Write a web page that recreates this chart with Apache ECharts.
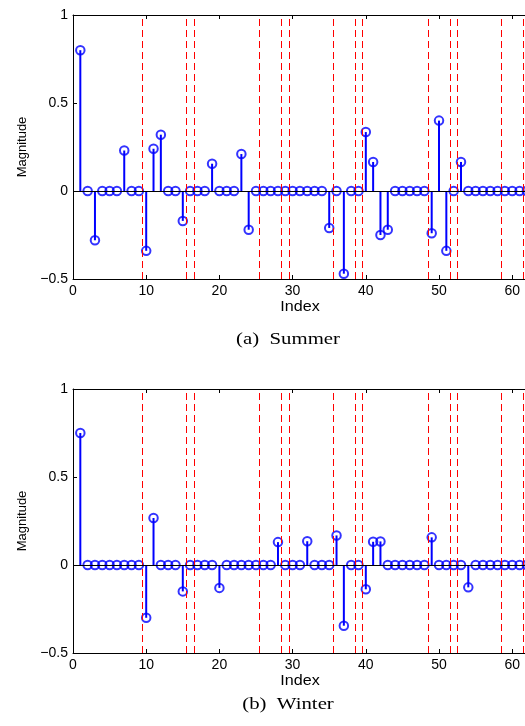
<!DOCTYPE html>
<html>
<head>
<meta charset="utf-8">
<script src="https://cdn.jsdelivr.net/npm/echarts@6/dist/echarts.min.js"></script>
<style>
  html, body { margin: 0; padding: 0; background: #fff; }
  #chart { width: 525px; height: 726px; }
</style>
</head>
<body>
<div id="chart"></div>
<script>
// Coefficient index 1..64
const indices = Array.from({ length: 64 }, (_, i) => i + 1);

// Summer coefficients
const summer = [
  0.80, 0, -0.28, 0, 0, 0, 0.23, 0, 0, -0.34,
  0.24, 0.32, 0, 0, -0.17, 0, 0, 0, 0.155, 0,
  0, 0, 0.21, -0.22, 0, 0, 0, 0, 0, 0,
  0, 0, 0, 0, -0.21, 0, -0.47, 0, 0, 0.335,
  0.165, -0.25, -0.22, 0, 0, 0, 0, 0, -0.24, 0.40,
  -0.34, 0, 0.165, 0, 0, 0, 0, 0, 0, 0,
  0, 0, 0, 0
];

// Winter coefficients
const winter = [
  0.75, 0, 0, 0, 0, 0, 0, 0, 0, -0.30,
  0.267, 0, 0, 0, -0.15, 0, 0, 0, 0, -0.13,
  0, 0, 0, 0, 0, 0, 0, 0.13, 0, 0,
  0, 0.135, 0, 0, 0, 0.168, -0.345, 0, 0, -0.138,
  0.132, 0.134, 0, 0, 0, 0, 0, 0, 0.157, 0,
  0, 0, 0, -0.127, 0, 0, 0, 0, 0, 0,
  0, 0, 0, 0
];

// Group boundaries (dashed separators)
const boundaries = [9.5, 15.5, 16.5, 25.5, 28.5, 29.5, 35.5, 38.5, 39.5, 48.5, 51.5, 52.5, 58.5, 61.5];

// Axis ticks
const xTicks = { min: 0, max: 64, interval: 10 };
const yTicks = { min: -0.5, max: 1, interval: 0.5 };

const captions = ['(a)  Summer', '(b)  Winter'];
const panels = [summer, winter];

const BLUE = '#0000ff';
const FONT = 'Liberation Sans, Arial, Helvetica, sans-serif';
const SERIF = 'Liberation Serif, Times New Roman, serif';
const panelTops = [15, 389];
const plotH = 264;
const plotLeft = 73;
const plotW = 468.5;

const grids = [], xAxes = [], yAxes = [], series = [];

function fmtY(v) {
  if (Math.abs(v) < 1e-9) return '0';
  const s = String(Math.abs(v));
  return v < 0 ? '\u2212' + s : s;
}

panels.forEach((vals, p) => {
  grids.push({
    left: plotLeft, top: panelTops[p], width: plotW, height: plotH,
    containLabel: false, outerBoundsMode: 'none'
  });
  const axisLine = { show: true, onZero: false, lineStyle: { color: '#000', width: 1 } };
  const tick = { show: true, inside: true, length: 4, lineStyle: { color: '#000' } };
  xAxes.push({
    type: 'value', gridIndex: p, position: 'bottom',
    min: xTicks.min, max: xTicks.max, interval: xTicks.interval,
    axisLine, axisTick: tick, splitLine: { show: false },
    axisLabel: {
      color: '#000', fontFamily: FONT, fontSize: 14, margin: 5,
      showMaxLabel: false, formatter: v => (v % 10 === 0 ? String(v) : '')
    }
  });
  xAxes.push({
    type: 'value', gridIndex: p, position: 'top',
    min: xTicks.min, max: xTicks.max, interval: xTicks.interval,
    axisLine, axisTick: tick, splitLine: { show: false },
    axisLabel: { show: false }
  });
  yAxes.push({
    type: 'value', gridIndex: p, position: 'left',
    min: yTicks.min, max: yTicks.max, interval: yTicks.interval,
    axisLine, axisTick: tick, splitLine: { show: false },
    axisLabel: { color: '#000', fontFamily: FONT, fontSize: 14, margin: 5, formatter: fmtY },
    name: 'Magnitude', nameLocation: 'middle', nameGap: 44,
    nameTextStyle: { color: '#000', fontFamily: FONT, fontSize: 13 }
  });

  const pts = indices.map((x, i) => [x, vals[i]]);

  // stems
  series.push({
    type: 'bar', xAxisIndex: p * 2, yAxisIndex: p,
    data: pts, barWidth: 2, silent: true, z: 3,
    itemStyle: { color: BLUE },
    markLine: {
      silent: true, symbol: 'none', animation: false,
      label: { show: false },
      lineStyle: { color: '#ff0000', type: [7, 4], width: 1 },
      data: boundaries.map(b => ({ xAxis: b }))
    }
  });
  // circle heads + zero baseline
  series.push({
    type: 'scatter', xAxisIndex: p * 2, yAxisIndex: p,
    data: pts, symbol: 'circle', symbolSize: 8.5, silent: true, z: 4,
    itemStyle: { color: 'rgba(0,0,0,0)', borderColor: BLUE, borderWidth: 2 },
    markLine: {
      silent: true, symbol: 'none', animation: false,
      label: { show: false },
      lineStyle: { color: '#000', type: 'solid', width: 1 },
      data: [{ yAxis: 0 }]
    }
  });
});

function centeredText(text, x, y, font, sx) {
  return {
    type: 'text', x, y, scaleX: sx, silent: true,
    style: { text, font, fill: '#000', align: 'center', verticalAlign: 'middle' }
  };
}

const graphic = [
  centeredText('Index', 300, 307, '14px ' + FONT, 1.15),
  centeredText('Index', 300, 681, '14px ' + FONT, 1.15),
  centeredText(captions[0], 288, 340, '16px ' + SERIF, 1.3),
  centeredText(captions[1], 288, 705, '16px ' + SERIF, 1.3)
];

const chart = echarts.init(document.getElementById('chart'), null, { renderer: 'canvas' });
chart.setOption({
  animation: false,
  grid: grids,
  xAxis: xAxes,
  yAxis: yAxes,
  series,
  graphic
});
</script>
</body>
</html>
